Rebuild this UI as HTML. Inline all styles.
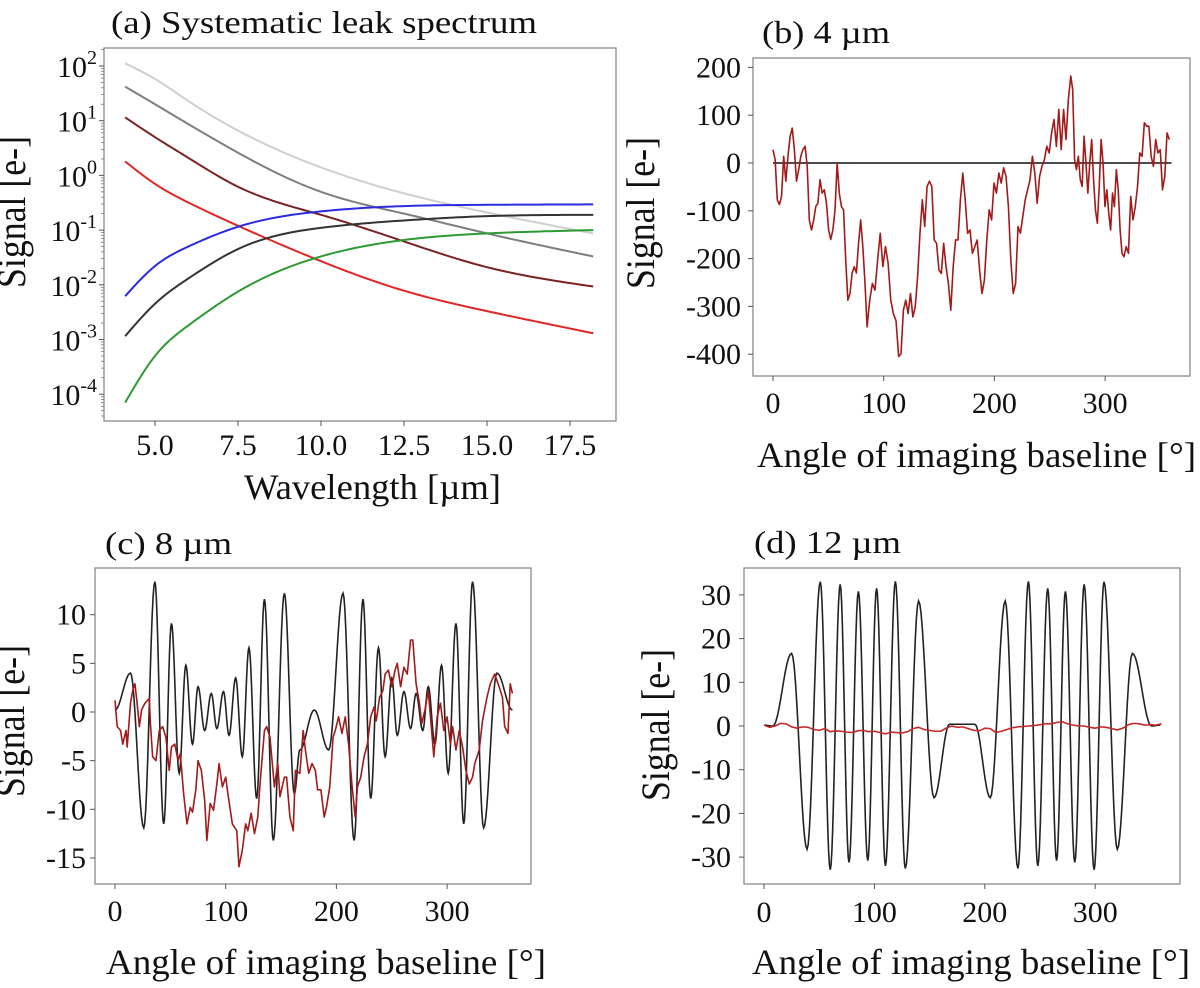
<!DOCTYPE html>
<html>
<head>
<meta charset="utf-8">
<style>
  html,body{margin:0;padding:0;background:#fff;}
  svg{display:block;font-family:"Liberation Serif","DejaVu Serif",serif;}
</style>
</head>
<body>
<svg id="fig" width="1200" height="988" viewBox="0 0 1200 988" xmlns="http://www.w3.org/2000/svg"></svg>
<script>
// ---------- Panel (a) data: systematic leak spectrum ----------
const aWavelengths = [4.1, 5, 6, 7.5, 10, 12.5, 15, 18.2];
const aLightGray = [112, 58, 23, 6.6, 1.4, 0.47, 0.21, 0.087];
const aDarkGray  = [42, 20, 8.7, 2.6, 0.5, 0.2, 0.087, 0.033];
const aBrown     = [11.5, 5.0, 2.1, 0.62, 0.19, 0.062, 0.021, 0.0093];
const aRed       = [1.8, 0.70, 0.32, 0.12, 0.027, 0.0078, 0.0033, 0.0013];
const aBlue      = [0.0062, 0.022, 0.05, 0.115, 0.22, 0.275, 0.29, 0.295];
const aBlack     = [0.00115, 0.0045, 0.013, 0.045, 0.11, 0.15, 0.18, 0.19];
const aGreen     = [0.00007, 0.0005, 0.0018, 0.0075, 0.033, 0.066, 0.087, 0.1];
const aXTicks = [5.0, 7.5, 10.0, 12.5, 15.0, 17.5];
const aYTickExp = [2, 1, 0, -1, -2, -3, -4];

// ---------- Panel (b) data: 4 um ----------
const bValues = [28,7,-77,-87,-70,14,-38,14,56,73,28,-38,-14,14,28,35,-7,-120,-140,-120,-91,-84,-35,-63,-56,-84,-140,-160,-140,-98,0,-63,-91,-98,-203,-287,-273,-230,-217,-230,-168,-119,-175,-250,-343,-287,-252,-266,-203,-147,-217,-175,-210,-287,-315,-330,-405,-399,-308,-287,-315,-273,-322,-301,-238,-147,-77,-133,-49,-38,-49,-161,-168,-224,-231,-168,-217,-252,-308,-217,-161,-161,-77,-21,-77,-147,-140,-189,-175,-161,-224,-273,-245,-161,-98,-119,-42,-63,-21,-42,-10,-28,-91,-203,-273,-252,-133,-147,-112,-77,-56,-35,14,-21,-84,-28,-7,7,35,21,63,91,35,112,28,112,49,133,182,154,7,-14,14,-35,-49,56,0,-63,0,49,-35,-98,-126,-49,49,0,-91,-56,-105,-140,-63,-91,-14,-56,-140,-189,-196,-175,-189,-70,-119,-91,-49,21,14,84,77,77,14,-7,49,21,28,-56,-28,63,49];
const bAnchorIdx = [0, 44, 56, 78, 104, 128, 156, 176];
const bAnchorDeg = [0, 85, 113.5, 160.6, 217, 269, 317, 358];
const bZeroLine = [0, 0];
const bZeroDeg = [0, 360];
const bXTicks = [0, 100, 200, 300];
const bYTicks = [200, 100, 0, -100, -200, -300, -400];

// ---------- Panel (c) data: 8 um ----------
const cBlackDeg = [0,14,26,36,44,51,58,64,70,75,81,87,92,98,103,109,115,121,128,135,143,153,162,167,180,193,206,216,224,231,238,244,250,255,261,267,272,278,283,289,295,301,308,315,323,333,345,359];
const cBlackVal = [0.2,4.0,-11.9,13.4,-11.5,9.1,-6.3,4.8,-3.3,2.6,-1.9,1.9,-1.7,2.1,-2.4,3.5,-4.6,6.6,-8.9,11.6,-13.2,12.2,-8.4,-3.9,0.2,-3.9,12.2,-13.2,11.6,-8.9,6.6,-4.6,3.5,-2.4,2.1,-1.7,1.9,-1.9,2.6,-3.3,4.8,-6.3,9.1,-11.5,13.4,-11.9,4.0,0.2];
const cRedDeg = [0,2,5,7,10,11,14,16,18,20,22,24,27,31,32,34,37,40,43,46,49,51,54,57,59,62,65,68,70,73,75,78,81,83,86,89,92,94,97,100,102,106,110,112,115,118,120,123,126,129,131,135,137,140,144,147,149,153,155,158,161,163,167,170,172,175,178,181,183,186,189,191,194,197,199,202,205,208,211,214,217,219,222,225,228,231,234,236,239,242,244,247,250,253,255,258,261,264,267,269,272,275,277,280,283,286,288,291,294,297,300,303,305,308,311,314,317,320,323,325,329,332,336,339,343,347,350,352,355,357,359];
const cRedVal = [1.2,-1.5,-1.9,-3.3,-1.9,-3.6,0.9,2.2,2.9,0.9,-1.5,0.2,0.9,1.4,-1.2,-4.6,-5,-1.9,-1.5,-2.6,-6,-3.6,-3.3,-5,-4.3,-8.4,-11.5,-9.8,-10.3,-8,-5,-6,-9.1,-13.2,-9.4,-10.1,-7.4,-5.3,-7.7,-6.7,-8.4,-11.5,-12.2,-15.9,-14.2,-11.5,-12.2,-10.4,-12.5,-10.8,-7.4,-1.9,-1.5,-2.6,-7.7,-5.3,-8.7,-6.7,-6.7,-10.8,-12.2,-6,-6.3,-1.9,-3.9,-6.3,-5.3,-6,-8,-8,-10.8,-9.8,-7.7,-2.6,-1.9,-0.5,-2.2,-0.5,-3.3,-7.4,-10.8,-7.7,-6.7,-4.6,-3.3,-0.5,0.5,-0.9,1.5,2.2,3.9,4.3,2.6,4.3,5.0,2.6,4.6,3.9,7.4,7.4,2.9,0.9,-1.2,0.2,2.2,-1.9,-4.6,-0.5,0.9,-1.9,-0.5,-3.3,-1.5,-3.9,-1.9,-3.6,-6,-7.4,-6.7,-5.3,-3.9,-0.9,1.5,2.9,3.9,2.6,1.5,-1.5,-2.2,2.9,1.9];
const cXTicks = [0, 100, 200, 300];
const cYTicks = [10, 5, 0, -5, -10, -15];

// ---------- Panel (d) data: 12 um ----------
const dBlackDeg = [0,8,25,39,51,60,69,77,85.5,94,102,110,119,128,140,154,168,191,205,218.5,230,239.5,248,257,265,273,281.5,290,299,308,320,333.7,351,359];
const dBlackVal = [0.2,0,16.6,-28.2,33.0,-32.9,32.4,-31.2,30.8,-30.8,31.5,-32,33.1,-32.6,28.6,-16.4,0.4,0.4,-16.4,28.6,-32.6,33.1,-32,31.5,-30.8,30.8,-31.2,32.4,-32.9,33.0,-28.2,16.6,0,0.2];
const dRedDeg = [0,5,10,15,20,25,30,35,40,45,50,55,60,65,70,75,80,85,90,95,100,105,110,115,120,125,130,135,140,145,150,155,160,165,170,175,180,185,190,195,200,205,210,215,220,225,230,235,240,245,250,255,260,265,270,275,280,285,290,295,300,305,310,315,320,325,330,335,340,345,350,355,360];
const dRedVal = [0.2,-0.3,0,0.6,0.5,-0.2,-0.5,-0.2,-0.3,-0.8,-1,-0.6,-1.3,-1.1,-1.2,-1.4,-1.5,-1.1,-1,-1.3,-1.2,-1.5,-1.8,-1.4,-1.5,-1.6,-1.3,-0.6,-0.3,-0.8,-1,-1.2,-1.2,-0.5,0,-0.3,-0.2,-0.6,-1,-1.1,-0.5,-0.6,-1.5,-1.2,-0.8,-0.4,-0.2,-0.1,0,0.1,0.3,0.5,0.5,0.8,1.0,0.5,0.2,0,0,-0.3,-0.5,-0.2,-0.3,-0.6,-0.9,-0.5,0.3,0.6,0.5,0.2,0.3,0.2,0.5];
const dXTicks = [0, 100, 200, 300];
const dYTicks = [30, 20, 10, 0, -10, -20, -30];

// ---------- helpers ----------
const NS = 'http://www.w3.org/2000/svg';
const svg = document.getElementById('fig');
const TICK_FS = 30;
function add(parent, tag, attrs, name) {
  const e = document.createElementNS(NS, tag);
  for (const k in attrs) e.setAttribute(k, attrs[k]);
  
  
  parent.appendChild(e);
  return e;
}
function pathD(pts) {
  return pts.map((p, i) => (i ? 'L' : 'M') + p[0].toFixed(2) + ' ' + p[1].toFixed(2)).join(' ');
}
// natural cubic spline sampled densely
function spline(xs, ys, n) {
  const N = xs.length, h = [], al = [], l = [1], mu = [0], z = [0], c = new Array(N).fill(0), b = [], d = [];
  for (let i = 0; i < N - 1; i++) h.push(xs[i + 1] - xs[i]);
  for (let i = 1; i < N - 1; i++) al[i] = 3 / h[i] * (ys[i + 1] - ys[i]) - 3 / h[i - 1] * (ys[i] - ys[i - 1]);
  for (let i = 1; i < N - 1; i++) {
    l[i] = 2 * (xs[i + 1] - xs[i - 1]) - h[i - 1] * mu[i - 1];
    mu[i] = h[i] / l[i];
    z[i] = (al[i] - h[i - 1] * z[i - 1]) / l[i];
  }
  z[N - 1] = 0;
  for (let j = N - 2; j >= 0; j--) {
    c[j] = z[j] - mu[j] * c[j + 1];
    b[j] = (ys[j + 1] - ys[j]) / h[j] - h[j] * (c[j + 1] + 2 * c[j]) / 3;
    d[j] = (c[j + 1] - c[j]) / (3 * h[j]);
  }
  const out = [];
  for (let i = 0; i < N - 1; i++) {
    for (let k = 0; k < n; k++) {
      const t = h[i] * k / n;
      out.push([xs[i] + t, ys[i] + b[i] * t + c[i] * t * t + d[i] * t * t * t]);
    }
  }
  out.push([xs[N - 1], ys[N - 1]]);
  return out;
}
function cosInterp(xs, ys, n) {
  const out = [];
  for (let i = 0; i < xs.length - 1; i++) {
    for (let k = 0; k < n; k++) {
      const t = k / n, w = (1 - Math.cos(Math.PI * t)) / 2;
      out.push([xs[i] + (xs[i + 1] - xs[i]) * t, ys[i] + (ys[i + 1] - ys[i]) * w]);
    }
  }
  out.push([xs[xs.length - 1], ys[ys.length - 1]]);
  return out;
}
function text(parent, x, y, str, size, anchor, name) {
  const t = add(parent, 'text', {x: x, y: y, 'font-size': size, 'text-anchor': anchor, fill: '#111'}, name);
  t.textContent = str;
  return t;
}
function frame(g, box) {
  add(g, 'rect', {x: box[0], y: box[1], width: box[2] - box[0], height: box[3] - box[1], fill: 'none', stroke: '#8a8a8a', 'stroke-width': 1.3}, 'plot-frame');
}
function xTick(g, px, bottom, label, base, name) {
  add(g, 'line', {x1: px, y1: bottom, x2: px, y2: bottom + 5, stroke: '#555', 'stroke-width': 1}, name + '-tick');
  text(g, px, base, label, TICK_FS, 'middle', name + '-label');
}
function yTick(g, left, py, label, labelRight, name) {
  add(g, 'line', {x1: left - 5, y1: py, x2: left, y2: py, stroke: '#555', 'stroke-width': 1}, name + '-tick');
  text(g, labelRight, py + 10, label, TICK_FS, 'end', name + '-label');
}
function rotLabel(g, cx, cy, str, len, name) {
  const t = add(g, 'text', {x: 0, y: 0, 'font-size': 40, 'text-anchor': 'middle', fill: '#111', transform: 'translate(' + (cx + 13) + ',' + cy + ') rotate(-90)', textLength: len, lengthAdjust: 'spacingAndGlyphs'}, name);
  t.textContent = str;
}
function wideLabel(g, x1, x2, base, str, size, name) {
  const t = add(g, 'text', {x: x1, y: base, 'font-size': size, fill: '#111', textLength: x2 - x1, lengthAdjust: 'spacingAndGlyphs'}, name);
  t.textContent = str;
}

// ---------- Panel (a) ----------
(function () {
  const g = add(svg, 'g', {}, 'panel-a-leak-spectrum');
  const box = [104, 48, 616, 421];
  const X = v => 155 + (v - 5) * 33.2;
  const Y = v => 66 + (2 - Math.log10(v)) * 54.7;
  frame(g, box);
  aXTicks.forEach(v => xTick(g, X(v), box[3], v.toFixed(1), 455, 'x-tick-a'));
  aYTickExp.forEach(e => {
    const py = Y(Math.pow(10, e));
    add(g, 'line', {x1: box[0] - 5, y1: py, x2: box[0], y2: py, stroke: '#555', 'stroke-width': 1}, 'y-tick-a');
    const t = add(g, 'text', {x: 97, y: py + 11, 'font-size': TICK_FS, 'text-anchor': 'end', fill: '#111'}, 'y-tick-label-a');
    t.appendChild(document.createTextNode('10'));
    const s = add(t, 'tspan', {'font-size': 20, dy: -13}, 'y-tick-exponent');
    s.textContent = String(e);
    for (let m = 2; m <= 9; m++) {
      const my = Y(m * Math.pow(10, e));
      if (my > box[1] && my < box[3]) add(g, 'line', {x1: box[0] - 3, y1: my, x2: box[0], y2: my, stroke: '#777', 'stroke-width': 0.8}, 'y-minor-tick-a');
    }
    if (e === -4) for (let m = 2; m <= 9; m++) {
      const my = Y(m * Math.pow(10, -5));
      if (my < box[3]) add(g, 'line', {x1: box[0] - 3, y1: my, x2: box[0], y2: my, stroke: '#777', 'stroke-width': 0.8}, 'y-minor-tick-a');
    }
  });
  const series = [
    [aLightGray, '#cfcfcf', 'series-light-gray'],
    [aDarkGray, '#7e7e7e', 'series-gray'],
    [aBrown, '#7a2323', 'series-brown'],
    [aRed, '#e02626', 'series-red'],
    [aBlue, '#2b2be0', 'series-blue'],
    [aBlack, '#333333', 'series-black'],
    [aGreen, '#2e9a33', 'series-green']
  ];
  series.forEach(s => {
    const pts = spline(aWavelengths, s[0].map(v => Math.log10(v)), 24).map(p => [X(p[0]), Y(Math.pow(10, p[1]))]);
    add(g, 'path', {d: pathD(pts), fill: 'none', stroke: s[1], 'stroke-width': 2}, s[2]);
  });
  wideLabel(g, 111, 537, 33, '(a) Systematic leak spectrum', 32, 'panel-a-title');
  wideLabel(g, 244, 501, 499, 'Wavelength [\u00b5m]', 36, 'x-axis-title-a');
  rotLabel(g, 12, 212, 'Signal [e-]', 152, 'y-axis-title-a');
})();

// ---------- Panel (b) ----------
(function () {
  const g = add(svg, 'g', {}, 'panel-b-4um');
  const box = [753, 58, 1190, 376];
  const X = v => 773 + v * 1.107;
  const Y = v => 163 - v * 0.478;
  frame(g, box);
  bXTicks.forEach(v => xTick(g, X(v), box[3], String(v), 413, 'x-tick-b'));
  bYTicks.forEach(v => yTick(g, box[0], Y(v), String(v), 741, 'y-tick-b'));
  const ang = bValues.map((v, i) => {
    let k = 0;
    while (k < bAnchorIdx.length - 2 && i > bAnchorIdx[k + 1]) k++;
    const t = (i - bAnchorIdx[k]) / (bAnchorIdx[k + 1] - bAnchorIdx[k]);
    return bAnchorDeg[k] + t * (bAnchorDeg[k + 1] - bAnchorDeg[k]);
  });
  add(g, 'path', {d: pathD(bZeroDeg.map((d, i) => [X(d), Y(bZeroLine[i])])), fill: 'none', stroke: '#333', 'stroke-width': 1.8}, 'model-line-b');
  add(g, 'path', {d: pathD(ang.map((d, i) => [X(d), Y(bValues[i])])), fill: 'none', stroke: '#a31a1a', 'stroke-width': 1.6, 'stroke-linejoin': 'round'}, 'measured-line-b');
  wideLabel(g, 762, 890, 43, '(b) 4 \u00b5m', 32, 'panel-b-title');
  wideLabel(g, 757, 1196, 467, 'Angle of imaging baseline [\u00b0]', 36, 'x-axis-title-b');
  rotLabel(g, 641, 213, 'Signal [e-]', 152, 'y-axis-title-b');
})();

// ---------- Panel (c) ----------
(function () {
  const g = add(svg, 'g', {}, 'panel-c-8um');
  const box = [95, 568, 531, 884];
  const X = v => 115 + v * 1.107;
  const Y = v => 712 - v * 9.73;
  frame(g, box);
  cXTicks.forEach(v => xTick(g, X(v), box[3], String(v), 921, 'x-tick-c'));
  cYTicks.forEach(v => yTick(g, box[0], Y(v), String(v), 86, 'y-tick-c'));
  const bp = cosInterp(cBlackDeg, cBlackVal, 12).map(p => [X(p[0]), Y(p[1])]);
  add(g, 'path', {d: pathD(bp), fill: 'none', stroke: '#222', 'stroke-width': 1.6}, 'model-line-c');
  add(g, 'path', {d: pathD(cRedDeg.map((d, i) => [X(d), Y(cRedVal[i])])), fill: 'none', stroke: '#a31a1a', 'stroke-width': 1.6, 'stroke-linejoin': 'round'}, 'measured-line-c');
  wideLabel(g, 105, 232, 554, '(c) 8 \u00b5m', 32, 'panel-c-title');
  wideLabel(g, 106, 546, 974, 'Angle of imaging baseline [\u00b0]', 36, 'x-axis-title-c');
  rotLabel(g, 11, 721, 'Signal [e-]', 152, 'y-axis-title-c');
})();

// ---------- Panel (d) ----------
(function () {
  const g = add(svg, 'g', {}, 'panel-d-12um');
  const box = [744, 568, 1180, 884];
  const X = v => 764 + v * 1.104;
  const Y = v => 726 - v * 4.37;
  frame(g, box);
  dXTicks.forEach(v => xTick(g, X(v), box[3], String(v), 922, 'x-tick-d'));
  dYTicks.forEach(v => yTick(g, box[0], Y(v), String(v), 731, 'y-tick-d'));
  const bp = cosInterp(dBlackDeg, dBlackVal, 12).map(p => [X(p[0]), Y(p[1])]);
  add(g, 'path', {d: pathD(bp), fill: 'none', stroke: '#222', 'stroke-width': 1.6}, 'model-line-d');
  add(g, 'path', {d: pathD(dRedDeg.map((d, i) => [X(d), Y(dRedVal[i])])), fill: 'none', stroke: '#c42a2a', 'stroke-width': 1.6, 'stroke-linejoin': 'round'}, 'measured-line-d');
  wideLabel(g, 754, 901, 553, '(d) 12 \u00b5m', 32, 'panel-d-title');
  wideLabel(g, 752, 1190, 974, 'Angle of imaging baseline [\u00b0]', 36, 'x-axis-title-d');
  rotLabel(g, 656, 725, 'Signal [e-]', 152, 'y-axis-title-d');
})();
</script>
</body>
</html>
